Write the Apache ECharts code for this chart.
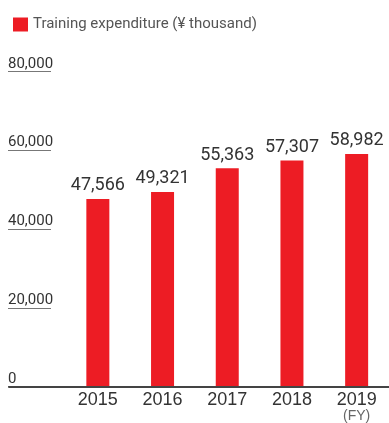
<!DOCTYPE html>
<html>
<head>
<meta charset="utf-8">
<script src="https://cdn.jsdelivr.net/npm/echarts@6/dist/echarts.min.js"></script>
<style>
  html, body { margin: 0; padding: 0; background: #fff; }
  #chart { width: 389px; height: 423px; }
</style>
</head>
<body>
<div id="chart"></div>
<script>
// Training expenditure by fiscal year (¥ thousand)
const years = ['2015', '2016', '2017', '2018', '2019'];
const expenditure = [47566, 49321, 55363, 57307, 58982];
const yTicks = [0, 20000, 40000, 60000, 80000];
const seriesName = 'Training expenditure (\u00a5 thousand)';

const NUM_FONT = 'Roboto, "Liberation Sans", sans-serif';
const YEAR_FONT = '"Liberation Sans", Arial, sans-serif';
const RED = '#ed1c24';
const fmt = v => Number(v).toLocaleString('en-US');

const yMin = yTicks[0];
const yMax = yTicks[yTicks.length - 1];
const yStep = yTicks[1] - yTicks[0];

const chart = echarts.init(document.getElementById('chart'), null, { renderer: 'canvas' });

chart.setOption({
  animation: false,
  legend: {
    left: 8,
    top: 12,
    icon: 'rect',
    itemWidth: 15,
    itemHeight: 14,
    selectedMode: false,
    textStyle: { fontFamily: NUM_FONT, fontSize: 15, color: '#555' },
    data: [seriesName]
  },
  grid: [
    // short underlined tick labels at the left
    { left: 8, width: 43, top: 71.3, bottom: 36.3 },
    // bars
    { left: 65.5, width: 325, top: 71.3, bottom: 36.3 },
    // full-width baseline
    { left: 9, right: 0, top: 71.3, bottom: 36.3 }
  ],
  xAxis: [
    { gridIndex: 0, type: 'value', show: false },
    {
      gridIndex: 1,
      type: 'category',
      data: years,
      axisLine: { show: false },
      axisTick: { show: false },
      axisLabel: {
        interval: 0,
        margin: 5,
        fontFamily: YEAR_FONT,
        fontSize: 18,
        color: '#333',
        formatter: (v, i) => i === years.length - 1 ? v + '\n{fy|(FY)}' : v,
        rich: {
          fy: { fontFamily: YEAR_FONT, fontSize: 14, color: '#666', lineHeight: 14 }
        }
      }
    },
    {
      gridIndex: 2,
      type: 'category',
      data: [],
      axisLine: { show: true, onZero: false, lineStyle: { color: '#444', width: 2 } },
      axisTick: { show: false },
      axisLabel: { show: false }
    }
  ],
  yAxis: [
    {
      gridIndex: 0,
      type: 'value',
      min: yMin,
      max: yMax,
      interval: yStep,
      axisLine: { show: false },
      axisTick: { show: false },
      splitLine: { show: true, lineStyle: { color: '#777', width: 1 } },
      axisLabel: {
        inside: true,
        margin: 0,
        verticalAlign: 'bottom',
        fontFamily: NUM_FONT,
        fontSize: 15,
        color: '#333',
        formatter: v => fmt(v)
      }
    },
    {
      gridIndex: 1,
      type: 'value',
      min: yMin,
      max: yMax,
      interval: yStep,
      show: false,
      splitLine: { show: false }
    },
    {
      gridIndex: 2,
      type: 'value',
      min: 0,
      max: 1,
      show: false
    }
  ],
  series: [
    {
      name: seriesName,
      type: 'bar',
      xAxisIndex: 1,
      yAxisIndex: 1,
      data: expenditure,
      barWidth: 23,
      itemStyle: { color: RED },
      label: {
        show: true,
        position: 'top',
        distance: 4,
        fontFamily: NUM_FONT,
        fontSize: 18,
        color: '#333',
        formatter: p => fmt(p.value)
      }
    }
  ]
});
</script>
</body>
</html>
